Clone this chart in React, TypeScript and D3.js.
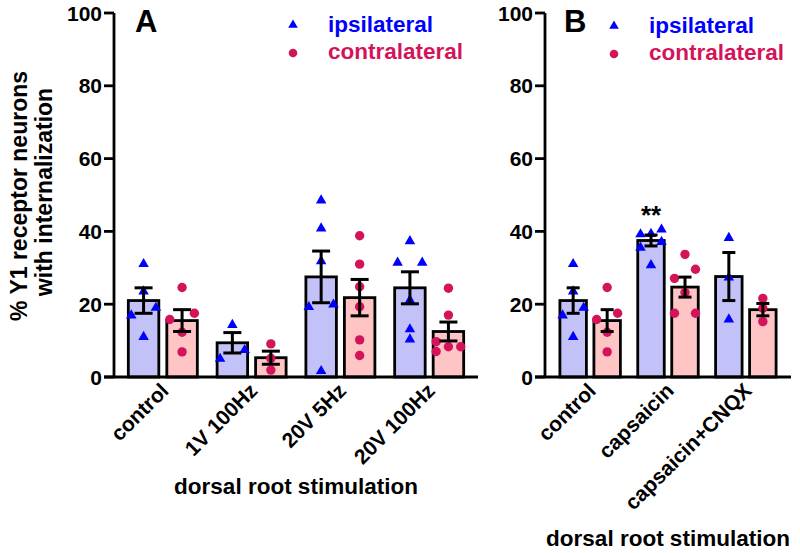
import React from "react";
import * as d3 from "d3";

// ---------- DATA ----------
const groupsA = ["control", "1V 100Hz", "20V 5Hz", "20V 100Hz"];
const groupsB = ["control", "capsaicin", "capsaicin+CNQX"];

const meanIpsiA = [21.0, 9.4, 27.5, 24.5];
const semIpsiA = [3.5, 2.8, 7.1, 4.4];
const meanContraA = [15.5, 5.3, 21.8, 12.5];
const semContraA = [3.0, 1.8, 5.0, 2.6];

const meanIpsiB = [21.0, 37.5, 27.6];
const semIpsiB = [3.5, 1.5, 6.6];
const meanContraB = [15.5, 24.7, 18.5];
const semContraB = [3.0, 2.75, 1.7];

// individual points (value, column: -1 left, 0 centre, 1 right)
const ptsIpsiA = [
  [31.3, 23.8, 17.2, 19.3, 11.3],
  [14.6, 7.7, 5.3],
  [48.8, 41.1, 32.1, 19.5, 20.2, 1.9],
  [37.6, 31.7, 31.7, 21.4, 13.4, 10.6],
];
const colIpsiA = [
  [0, 0, -1, 1, 0],
  [0, 1, -1],
  [0, 0, 0, -1, 1, 0],
  [0, -1, 1, 0, 0, 0],
];
const ptsContraA = [
  [24.6, 17.5, 15.8, 12.3, 6.9],
  [9.1, 5.1, 1.9],
  [38.8, 31.0, 24.8, 19.3, 10.2, 5.9],
  [24.4, 17.0, 9.7, 8.3, 8.3, 7.0],
];
const colContraA = [
  [0, 1, -1, 0, 0],
  [0, 0, 0],
  [0, 0, 0, 0, 0, 0],
  [0, 0, -1, 0, 1, -1],
];

const ptsIpsiB = [
  [31.3, 23.8, 17.2, 19.3, 11.3],
  [39.5, 39.6, 40.8, 35.8, 37.4, 31.0],
  [38.5, 27.6, 16.1],
];
const colIpsiB = [
  [0, 0, -1, 1, 0],
  [-1, 0, 1, -1, 1, 0],
  [0, 0, 0],
];
const ptsContraB = [
  [24.6, 17.5, 15.8, 12.3, 6.9],
  [33.7, 29.6, 27.1, 23.2, 17.5, 17.5],
  [21.6, 18.9, 15.2],
];
const colContraB = [
  [0, 1, -1, 0, 0],
  [0, 1, -1, 0, -1, 1],
  [0, 0, 0],
];

const sigB = ["", "**", ""];
const yTicks = [0, 20, 40, 60, 80, 100];

// ---------- STYLE ----------
const FONT = "'Liberation Sans', Arial, sans-serif";
const BLUE_FILL = "#c2c2f9";
const PINK_FILL = "#ffc4c4";
const BLUE = "#0000ff";
const PINK = "#d4145a";
const AXW = 2.8;

const y = d3.scaleLinear().domain([0, 100]).range([377, 13]);
const tri = d3.symbol().type(d3.symbolTriangle).size(48)();
const triLeg = d3.symbol().type(d3.symbolTriangle).size(40)();

type PanelProps = {
  groups: string[];
  x0: number;
  x1: number;
  padding: number;
  barW: number;
  gap: number;
  colStep: number;
  capW: number;
  meanI: number[];
  semI: number[];
  meanC: number[];
  semC: number[];
  ptsI: number[][];
  colI: number[][];
  ptsC: number[][];
  colC: number[][];
  letter: string;
  letterX: number;
  legX: number;
  legY: number;
  titleY: number;
  sig?: string[];
};

function Panel(p: PanelProps) {
  const x = d3.scalePoint<string>().domain(p.groups).range([p.x0, p.x1]).padding(p.padding);
  const off = p.gap / 2 + p.barW / 2;
  const series = [
    { mean: p.meanI, sem: p.semI, pts: p.ptsI, col: p.colI, fill: BLUE_FILL, dx: -off, kind: "tri" },
    { mean: p.meanC, sem: p.semC, pts: p.ptsC, col: p.colC, fill: PINK_FILL, dx: off, kind: "dot" },
  ];
  return (
    <g>
      {series.map((s, si) =>
        p.groups.map((g, gi) => (
          <rect
            key={`b${si}-${gi}`}
            x={(x(g) as number) + s.dx - p.barW / 2}
            y={y(s.mean[gi])}
            width={p.barW}
            height={y(0) - y(s.mean[gi])}
            fill={s.fill}
            stroke="#000"
            strokeWidth={2.8}
          />
        ))
      )}
      {series.map((s, si) =>
        p.groups.map((g, gi) =>
          s.pts[gi].map((v, k) => {
            const cx = (x(g) as number) + s.dx + s.col[gi][k] * p.colStep;
            return s.kind === "tri" ? (
              <path key={`p${si}-${gi}-${k}`} d={tri} transform={`translate(${cx},${y(v) + 1})`} fill={BLUE} />
            ) : (
              <circle key={`p${si}-${gi}-${k}`} cx={cx} cy={y(v)} r={4.7} fill={PINK} />
            );
          })
        )
      )}
      {series.map((s, si) =>
        p.groups.map((g, gi) => {
          const cx = (x(g) as number) + s.dx;
          const hi = y(s.mean[gi] + s.sem[gi]);
          const lo = y(s.mean[gi] - s.sem[gi]);
          return (
            <g key={`e${si}-${gi}`} stroke="#000" strokeWidth={3}>
              <line x1={cx} x2={cx} y1={hi} y2={lo} />
              <line x1={cx - p.capW / 2} x2={cx + p.capW / 2} y1={hi} y2={hi} />
              <line x1={cx - p.capW / 2} x2={cx + p.capW / 2} y1={lo} y2={lo} />
            </g>
          );
        })
      )}
      {p.sig &&
        p.groups.map((g, gi) =>
          p.sig![gi] ? (
            <text key={`s${gi}`} x={(x(g) as number) - off} y={224} textAnchor="middle" fontFamily={FONT} fontWeight="bold" fontSize={26}>
              {p.sig![gi]}
            </text>
          ) : null
        )}
      <line x1={p.x0} x2={p.x0} y1={y(100)} y2={y(0)} stroke="#000" strokeWidth={AXW} />
      {yTicks.map((t) => (
        <g key={`yt${t}`}>
          <line x1={p.x0 - 10} x2={p.x0} y1={y(t)} y2={y(t)} stroke="#000" strokeWidth={AXW} />
          <text x={p.x0 - 12} y={y(t)} dy="0.36em" textAnchor="end" fontFamily={FONT} fontWeight="bold" fontSize={21}>
            {t}
          </text>
        </g>
      ))}
      <line x1={p.x0 - 10} x2={p.x1} y1={y(0)} y2={y(0)} stroke="#000" strokeWidth={AXW} />
      {p.groups.map((g) => (
        <text
          key={`xt${g}`}
          transform={`translate(${(x(g) as number) + 7},${392}) rotate(-45)`}
          textAnchor="end"
          fontFamily={FONT}
          fontWeight="bold"
          fontSize={21}
        >
          {g}
        </text>
      ))}
      <text x={(p.x0 + p.x1) / 2} y={p.titleY} textAnchor="middle" fontFamily={FONT} fontWeight="bold" fontSize={22.5}>
        dorsal root stimulation
      </text>
      <text x={p.letterX} y={32} fontFamily={FONT} fontWeight="bold" fontSize={31}>
        {p.letter}
      </text>
      <path d={triLeg} transform={`translate(${p.legX},${p.legY + 1})`} fill={BLUE} />
      <text x={p.legX + 35} y={p.legY + 8} fontFamily={FONT} fontWeight="bold" fontSize={22.5} fill={BLUE}>
        ipsilateral
      </text>
      <circle cx={p.legX} cy={p.legY + 29} r={4.3} fill={PINK} />
      <text x={p.legX + 35} y={p.legY + 35} fontFamily={FONT} fontWeight="bold" fontSize={22.5} fill={PINK}>
        contralateral
      </text>
    </g>
  );
}

export default function App() {
  return (
    <svg width={800} height={553} style={{ position: "absolute", left: 0, top: 0, background: "#fff" }}>
      <rect width={800} height={553} fill="#fff" />
      <text transform="translate(27,196) rotate(-90)" textAnchor="middle" fontFamily={FONT} fontWeight="bold" fontSize={23}>
        % Y1 receptor neurons
      </text>
      <text transform="translate(52,192) rotate(-90)" textAnchor="middle" fontFamily={FONT} fontWeight="bold" fontSize={23}>
        with internalization
      </text>
      <Panel
        groups={groupsA}
        x0={114}
        x1={478}
        padding={0.55}
        barW={30.5}
        gap={8}
        colStep={12.3}
        capW={18}
        meanI={meanIpsiA}
        semI={semIpsiA}
        meanC={meanContraA}
        semC={semContraA}
        ptsI={ptsIpsiA}
        colI={colIpsiA}
        ptsC={ptsContraA}
        colC={colContraA}
        letter="A"
        letterX={135}
        legX={293}
        legY={24}
        titleY={494}
      />
      <Panel
        groups={groupsB}
        x0={545}
        x1={791}
        padding={0.58}
        barW={26.5}
        gap={7.5}
        colStep={10.5}
        capW={13}
        meanI={meanIpsiB}
        semI={semIpsiB}
        meanC={meanContraB}
        semC={semContraB}
        ptsI={ptsIpsiB}
        colI={colIpsiB}
        ptsC={ptsContraB}
        colC={colContraB}
        letter="B"
        letterX={564}
        legX={614}
        legY={25}
        titleY={546}
        sig={sigB}
      />
    </svg>
  );
}
